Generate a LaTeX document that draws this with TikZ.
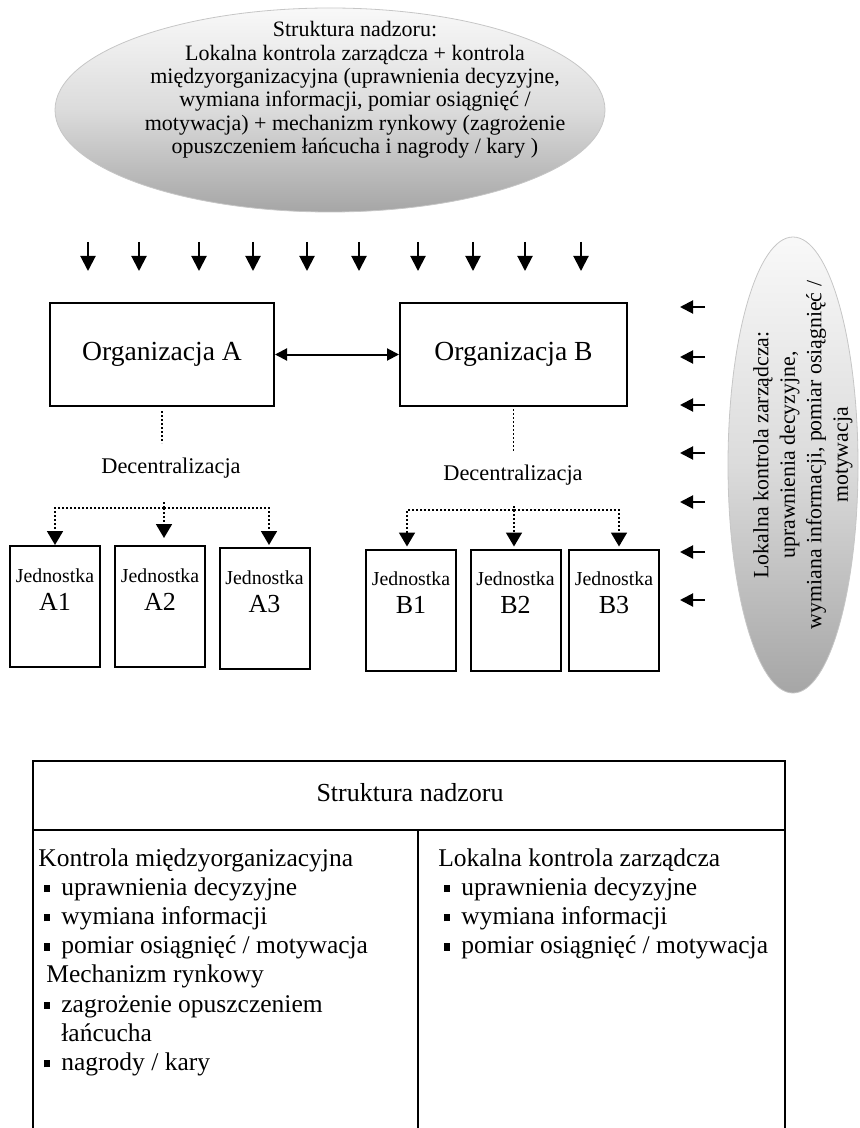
\documentclass[tikz,border=0pt]{standalone}
\usepackage{fontspec}
\setmainfont{Liberation Serif}
\usetikzlibrary{arrows.meta,shapes.geometric,positioning}

\newcommand{\pkt}{\hspace*{3pt}\makebox[8.5pt][l]{\rule[1.6pt]{2.6pt}{3.6pt}}}

\tikzset{
  elipsa/.style={ellipse, draw=gray!45, line width=0.4pt, inner sep=0pt,
    top color=gray!5, bottom color=gray!70, middle color=gray!28},
  tekstel/.style={align=center, inner sep=0pt, font=\fontsize{11}{11.7}\selectfont},
  orgbox/.style={draw, line width=1pt, minimum height=51.5pt, inner sep=0pt,
    font=\fontsize{13.8}{16}\selectfont},
  jbox/.style={draw, line width=1pt, minimum width=45pt, minimum height=60.5pt, inner sep=0pt},
  jtxt/.style={align=center, inner sep=0pt, font=\fontsize{13}{14}\selectfont},
  pil/.style={line width=1pt, -{Triangle[width=7.5pt,length=7.5pt]}},
  pil2/.style={line width=1pt, -{Triangle[width=6.5pt,length=6.5pt]}},
  dwustr/.style={line width=1pt, {Triangle[width=6pt,length=6pt]}-{Triangle[width=6pt,length=6pt]}},
  kropki/.style={line width=0.9pt, dash pattern=on 0.9pt off 1.1pt},
  grot/.style={-{Triangle[width=8pt,length=7pt]}},
  tabela/.style={line width=1pt},
  kolumna/.style={anchor=north west, align=left, inner sep=0pt, font=\fontsize{12.75}{14.6}\selectfont}
}

\begin{document}
\begin{tikzpicture}[x=0.5pt,y=-0.5pt]
\useasboundingbox (0,0) rectangle (859,1128);
\clip (0,0) rectangle (859,1128);

% gorna elipsa
\node[elipsa, minimum width=275pt, minimum height=102pt] (nadzor) at (330,110) {};
\node[tekstel] (nadzorTxt) at (355,90) {Struktura nadzoru:\\
  Lokalna kontrola zarządcza + kontrola\\
  międzyorganizacyjna (uprawnienia decyzyjne,\\
  wymiana informacji, pomiar osiągnięć /\\
  motywacja) + mechanizm rynkowy (zagrożenie\\
  opuszczeniem łańcucha i nagrody / kary )};

% strzalki w dol
\foreach \x [count=\i] in {88,139,199,253,307,359,418,473,525,581}{
  \coordinate (g\i) at (\x,242);
  \coordinate (h\i) at (\x,271);
  \draw[pil] (g\i) -- (h\i);
}

% organizacje
\node[orgbox, minimum width=112pt] (orgA) at (162,354.5) {Organizacja A};
\node[orgbox, minimum width=113.5pt] (orgB) at (513.5,354.5) {Organizacja B};
\draw[dwustr] (orgA) -- (orgB);

\draw[kropki] ([yshift=-2pt]orgA.south) -- ([yshift=-18pt]orgA.south);
\draw[kropki] ([yshift=-1pt]orgB.south) -- ([yshift=-22pt]orgB.south);
\node[font=\fontsize{11.2}{13}\selectfont] (decA) at (171,468) {Decentralizacja};
\node[font=\fontsize{11.2}{13}\selectfont] (decB) at (513,475) {Decentralizacja};

% jednostki
\node[jbox] (a1) at (55,606.5) {};
\node[jbox] (a2) at (160,606.5) {};
\node[jbox] (a3) at (264.5,608.5) {};
\node[jbox] (b1) at (411,610) {};
\node[jbox] (b2) at (515.5,610) {};
\node[jbox] (b3) at (614,610) {};
\foreach \n/\t in {a1/A1,a2/A2,a3/A3,b1/B1,b2/B2,b3/B3}{
  \node[jtxt] (\n t) at ([yshift=8.5pt]\n.center) {{\fontsize{9.9}{11}\selectfont Jednostka}\\ \t};
}

% decentralizacja - rozgalezienia
\coordinate (sA) at (164,502);
\coordinate (jA) at (164,508);
\draw[kropki] (sA) -- (jA);
\draw[kropki,grot] (jA) -| (a1.north);
\draw[kropki,grot,shorten >=3.5pt] (jA) -- (jA |- a2.north);
\draw[kropki,grot,shorten >=1pt] (jA) -| ([xshift=2.25pt]a3.north);

\coordinate (sB) at (514,506);
\coordinate (jB) at (514,510);
\draw[kropki] (sB) -- (jB);
\draw[kropki,grot,shorten >=1pt] (jB) -| ([xshift=-2pt]b1.north);
\draw[kropki,grot,shorten >=1pt] (jB) -- (jB |- b2.north);
\draw[kropki,grot,shorten >=1pt] (jB) -| ([xshift=2.5pt]b3.north);

% prawa elipsa
\node[elipsa, rotate=90, minimum width=228pt, minimum height=65pt] (lokalna) at (793,465) {};
\node[rotate=90, align=center, inner sep=0pt, font=\fontsize{10.9}{13.25}\selectfont] (lokalnaTxt) at (803,455)
  {Lokalna kontrola zarządcza:\\ uprawnienia decyzyjne,\\ wymiana informacji, pomiar osiągnięć /\\ motywacja};
\foreach \y [count=\i] in {307,357,405,453,502,552,600}{
  \coordinate (p\i) at (705,\y);
  \coordinate (k\i) at (680,\y);
  \draw[pil2] (p\i) -- (k\i);
}

% tabela
\draw[tabela] (33,1140) -- (33,761) -- (785,761) -- (785,1140);
\draw[tabela] (33,830) -- (785,830);
\draw[tabela] (418,830) -- (418,1140);
\node[font=\fontsize{13}{15}\selectfont] (naglowek) at (410,793) {Struktura nadzoru};
\node[kolumna] (lewa) at (38,848) {Kontrola międzyorganizacyjna\\
  \pkt uprawnienia decyzyjne\\
  \pkt wymiana informacji\\
  \pkt pomiar osiągnięć / motywacja\\
  \hspace*{4pt}Mechanizm rynkowy\\
  \pkt zagrożenie opuszczeniem\\
  \hspace*{11.5pt}łańcucha\\
  \pkt nagrody / kary};
\node[kolumna] (prawa) at (438,848) {Lokalna kontrola zarządcza\\
  \pkt uprawnienia decyzyjne\\
  \pkt wymiana informacji\\
  \pkt pomiar osiągnięć / motywacja};
\end{tikzpicture}
\end{document}
